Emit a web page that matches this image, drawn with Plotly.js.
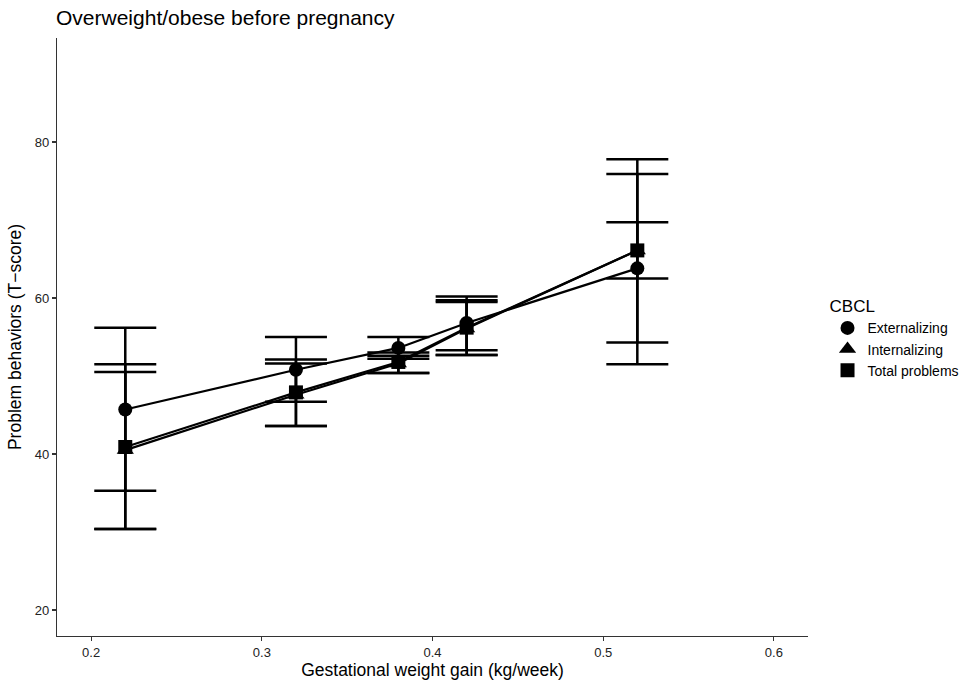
<!DOCTYPE html>
<html>
<head>
<meta charset="utf-8">
<script src="https://cdn.plot.ly/plotly-3.0.1.min.js"></script>
<style>html,body{margin:0;padding:0;background:#fff;}#chart{width:967px;height:683px;}</style>
</head>
<body>
<div id="chart"></div>
<script>
// Gestational weight gain (kg/week)
const gwg = [0.22, 0.32, 0.38, 0.42, 0.52];

// Externalizing
const extY  = [45.7, 50.8, 53.6, 56.8, 63.8];
const extLo = [35.3, 46.7, 52.2, 53.3, 51.5];
const extHi = [56.2, 55.0, 55.0, 60.2, 75.9];

// Internalizing
const intY  = [40.5, 47.6, 51.6, 56.1, 66.1];
const intLo = [30.4, 43.6, 50.4, 52.7, 62.5];
const intHi = [50.5, 51.6, 52.6, 59.5, 69.7];

// Total problems
const totY  = [40.9, 47.9, 51.8, 56.2, 66.1];
const totLo = [30.4, 43.6, 50.4, 52.7, 54.3];
const totHi = [51.5, 52.1, 53.0, 59.7, 77.8];

const seriesNames = ['Externalizing', 'Internalizing', 'Total problems'];
const symbols = ['circle', 'triangle-up', 'square'];
const markerSizes = [14, 15, 14];

const series = [
  {y: extY, lo: extLo, hi: extHi},
  {y: intY, lo: intLo, hi: intHi},
  {y: totY, lo: totLo, hi: totHi}
];

const traces = [];
series.forEach((s, i) => {
  traces.push({
    x: gwg, y: s.y, type: 'scatter', mode: 'lines',
    line: {color: '#000', width: 2.2},
    showlegend: false, hoverinfo: 'skip'
  });
});
series.forEach((s, i) => {
  traces.push({
    x: gwg, y: s.y, type: 'scatter', mode: 'markers',
    name: seriesNames[i],
    marker: {symbol: symbols[i], size: markerSizes[i], color: '#000'},
    error_y: {
      type: 'data', symmetric: false,
      array: s.hi.map((v, k) => v - s.y[k]),
      arrayminus: s.y.map((v, k) => v - s.lo[k]),
      color: '#000', thickness: 2.5, width: 31
    }
  });
});

const font = 'Liberation Sans, Arial, Helvetica, sans-serif';
const layout = {
  width: 967, height: 683,
  margin: {l: 57, r: 159, t: 38, b: 47, autoexpand: false},
  paper_bgcolor: '#fff', plot_bgcolor: '#fff',
  font: {family: font, color: '#000'},
  title: {text: 'Overweight/obese before pregnancy', x: 56/967, xanchor: 'left', xref: 'container',
          y: 1 - 18/683, yanchor: 'middle', yref: 'container', font: {size: 21, family: font, color: '#000'}},
  xaxis: {
    range: [0.18, 0.62], tickvals: [0.2, 0.3, 0.4, 0.5, 0.6], ticktext: ['0.2', '0.3', '0.4', '0.5', '0.6'],
    showgrid: false, zeroline: false, showline: true, linecolor: '#333', linewidth: 1.2,
    ticks: 'outside', ticklen: 4, tickcolor: '#333', tickwidth: 1.2,
    tickfont: {size: 13, color: '#222', family: font},
    title: {text: 'Gestational weight gain (kg/week)', font: {size: 17.5, family: font, color: '#000'}, standoff: 5}
  },
  yaxis: {
    range: [16.67, 93.33], tickvals: [20, 40, 60, 80], ticktext: ['20', '40', '60', '80'],
    showgrid: false, zeroline: false, showline: true, linecolor: '#333', linewidth: 1.2,
    ticks: 'outside', ticklen: 4, tickcolor: '#333', tickwidth: 1.2,
    tickfont: {size: 13, color: '#222', family: font},
    title: {text: 'Problem behaviors (T\u2212score)', font: {size: 17.5, family: font, color: '#000'}, standoff: 8}
  },
  legend: {
    x: 1.026, xanchor: 'left', y: 0.498, yanchor: 'middle',
    title: {text: 'CBCL', font: {size: 17, family: font, color: '#000'}},
    font: {size: 14, family: font, color: '#000'},
    tracegroupgap: 0, itemwidth: 30, bgcolor: 'rgba(0,0,0,0)'
  },
  showlegend: true
};

Plotly.newPlot('chart', traces, layout, {displayModeBar: false, staticPlot: true});
</script>
</body>
</html>
